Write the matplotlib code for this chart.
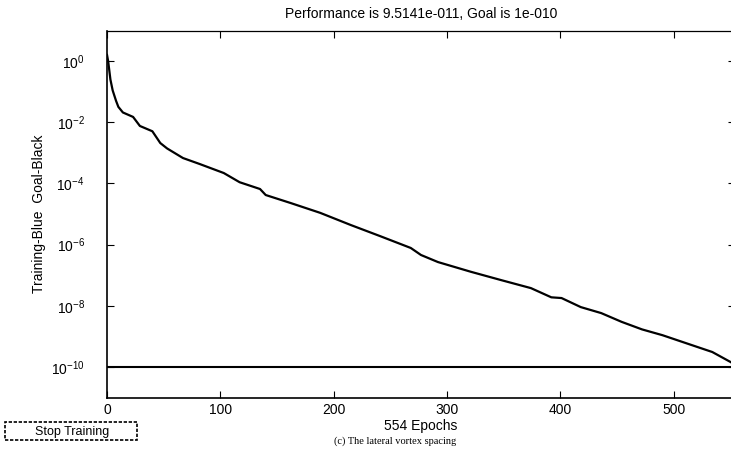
import matplotlib
matplotlib.use("Agg")
import matplotlib.pyplot as plt
from matplotlib.patches import Rectangle

matplotlib.rcParams['font.family'] = 'Liberation Sans'
matplotlib.rcParams['mathtext.fontset'] = 'custom'
matplotlib.rcParams['mathtext.rm'] = 'Liberation Sans'

# training record
epochs = [0, 1, 3, 5, 8, 10, 14, 23, 29, 40, 47, 53, 67, 82, 103, 117, 135,
          140, 162, 188, 215, 241, 268, 277, 292, 321, 348, 374, 392, 401,
          418, 436, 454, 472, 490, 516, 534, 551, 554]
performance = [1.6e0, 1.0e0, 2.5e-1, 1.1e-1, 5.0e-2, 3.2e-2, 2.1e-2, 1.5e-2,
               7.6e-3, 5.1e-3, 2.1e-3, 1.4e-3, 6.8e-4, 4.3e-4, 2.2e-4, 1.1e-4,
               6.6e-5, 4.2e-5, 2.3e-5, 1.1e-5, 4.4e-6, 1.9e-6, 7.8e-7, 4.6e-7,
               2.7e-7, 1.3e-7, 6.9e-8, 3.8e-8, 1.9e-8, 1.8e-8, 9.1e-9, 5.8e-9,
               3.0e-9, 1.7e-9, 1.1e-9, 5.2e-10, 3.1e-10, 1.4e-10, 9.5141e-11]
goal = 1e-10
n_epochs = 554
xticks = [0, 100, 200, 300, 400, 500]
yticks = [1e0, 1e-2, 1e-4, 1e-6, 1e-8, 1e-10]

fig = plt.figure(figsize=(7.31, 4.70), dpi=100)
ax = fig.add_axes([0.1464, 0.154, 0.859, 0.781])

ax.plot(epochs, performance, color='black', lw=1.6)
ax.plot([0, n_epochs], [goal, goal], color='black', lw=1.5)

ax.set_yscale('log')
ax.set_xlim(0, n_epochs)
ax.set_ylim(1e-11, 1e1)
ax.set_xticks(xticks)
ax.set_yticks(yticks)
ax.minorticks_off()
ax.tick_params(direction='in', top=True, right=True, length=5, labelsize=10)
ax.tick_params(axis='x', pad=4)
ax.tick_params(axis='y', pad=16)
for s in ax.spines.values():
    s.set_linewidth(1.2)
ax.spines['top'].set_linewidth(0.9)

ax.set_title("Performance is 9.5141e-011, Goal is 1e-010", fontsize=10, pad=9)
ax.set_xlabel("554 Epochs", fontsize=10)
ax.xaxis.set_label_coords(0.5, -0.058)
ax.set_ylabel("Training-Blue  Goal-Black", fontsize=10)
ax.yaxis.set_label_coords(-0.097, 0.5)

# stop button drawn in figure pixels
fig.patches.append(Rectangle((5 / 731, 1 - 440 / 470), 132 / 731, 18 / 470,
                             transform=fig.transFigure, fill=False,
                             ec='black', lw=1.2, ls=(0, (2, 1))))
fig.text(72 / 731, 1 - 432 / 470, "Stop Training", ha='center', va='center',
         fontsize=9)

fig.text(395 / 731, 1 - 441 / 470, "(c) The lateral vortex spacing",
         ha='center', va='center', fontsize=7.5, family='Liberation Serif')

fig.savefig("out.png", dpi=100)
